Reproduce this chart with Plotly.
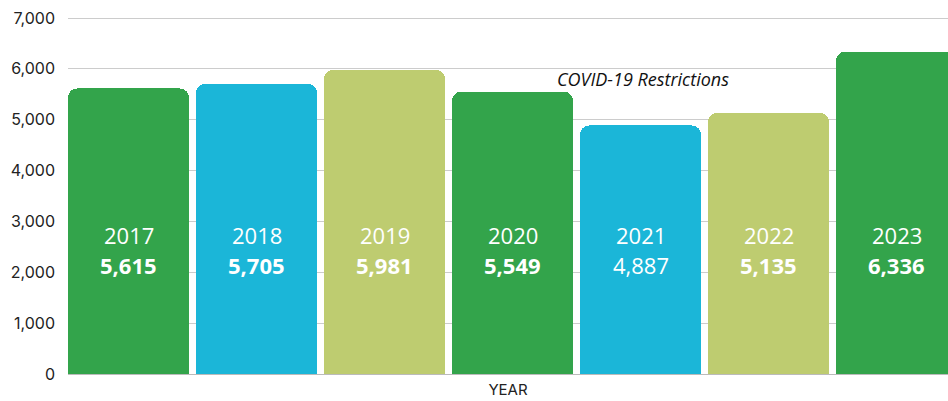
import plotly.graph_objects as go

years = ["2017", "2018", "2019", "2020", "2021", "2022", "2023"]
values = [5615, 5705, 5981, 5549, 4887, 5135, 6336]
bar_colors = ["#33A44B", "#1BB6D8", "#BECC70", "#33A44B", "#1BB6D8", "#BECC70", "#33A44B"]
value_bold = [True, True, True, True, False, True, True]
y_ticks = [0, 1000, 2000, 3000, 4000, 5000, 6000, 7000]
y_tick_labels = ["0", "1,000", "2,000", "3,000", "4,000", "5,000", "6,000", "7,000"]
note_text = "COVID-19 Restrictions"
x_title = "YEAR"

xs = list(range(len(years)))

fig = go.Figure()
fig.add_trace(go.Bar(
    x=xs, y=values,
    marker=dict(color=bar_colors, cornerradius=9, line=dict(width=0)),
    width=0.945,
    hoverinfo="skip",
))

annotations = []
for i, (yr, v, b) in enumerate(zip(years, values, value_bold)):
    annotations.append(dict(x=i, y=2740, xref="x", yref="y", text=yr, showarrow=False,
                            font=dict(family="Open Sans", size=22, color="white")))
    vt = f"{v:,}"
    if b:
        vt = f"<b>{vt}</b>"
    annotations.append(dict(x=i, y=2150, xref="x", yref="y", text=vt, showarrow=False,
                            font=dict(family="Open Sans", size=22, color="white")))
annotations.append(dict(x=4.02, y=5800, xref="x", yref="y", text=f"<i>{note_text}</i>",
                        showarrow=False, xanchor="center",
                        font=dict(family="Open Sans", size=18, color="#111111")))

fig.update_layout(
    width=948, height=401,
    margin=dict(l=68, r=0, t=17, b=27, autoexpand=False),
    paper_bgcolor="white", plot_bgcolor="white",
    showlegend=False,
    bargap=0,
    annotations=annotations,
    font=dict(family="Inter", color="#222222"),
)
fig.update_xaxes(
    range=[-0.4727, 6.402], showticklabels=False, showgrid=False, zeroline=False,
    showline=False, ticks="",
    title=dict(text=x_title, font=dict(family="Inter", size=15, color="#222222"), standoff=10),
)
fig.update_yaxes(
    range=[0, 7020], tickvals=y_ticks, ticktext=y_tick_labels,
    showgrid=True, gridcolor="#CCCCCC", gridwidth=1,
    zeroline=True, zerolinecolor="#BBBBBB", zerolinewidth=1,
    tickfont=dict(family="Inter", size=16, color="#222222"),
    ticklabelstandoff=12, showline=False,
    ticklabeloverflow="allow", automargin=False,
)

fig.write_html(
    "out.html",
    config={"displayModeBar": False, "staticPlot": True},
    post_script="document.body.style.margin='0';document.body.style.overflow='hidden';",
)
